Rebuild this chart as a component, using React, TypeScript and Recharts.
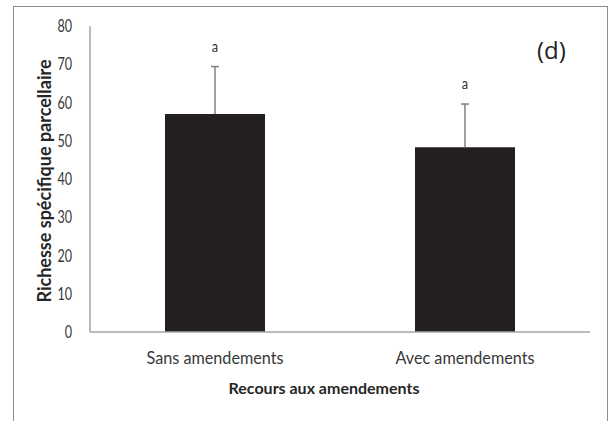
import { BarChart, Bar, XAxis, YAxis, LabelList, Label } from "recharts";

// values
const categories = ["Sans amendements", "Avec amendements"];
const means = [57, 48.3];
const errUp = [12.4, 11.3];
const letters = ["a", "a"];
const yTicks = [0, 10, 20, 30, 40, 50, 60, 70, 80];

const data = categories.map((c, i) => ({
  name: c,
  value: means[i],
  letter: letters[i],
}));

const AXIS = "#a6a6a6";
const FONT = "Lato, 'Open Sans', sans-serif";

// the original figure uses a narrow font, so squeeze the text a bit
function XTick(props: any) {
  const { x, y, payload } = props;
  return (
    <text transform={`translate(${x}, ${y}) scale(0.9, 1)`} textAnchor="middle"
      dy="0.71em" fontFamily={FONT} fontSize={18} fill="#383838">
      {payload.value}
    </text>
  );
}

function YTick(props: any) {
  const { x, y, payload } = props;
  return (
    <text transform={`translate(${x}, ${y}) scale(0.72, 1)`} textAnchor="end"
      dy="0.355em" fontFamily={FONT} fontSize={17.5} fill="#383838">
      {payload.value}
    </text>
  );
}

// error bar (upper half only) + significance letter, scaled from the bar itself
function ErrAndLetter(props: any) {
  const { x, y, width, height, index } = props;
  const d = data[index];
  if (!d) return null;
  const cx = x + width / 2;
  const top = y - (errUp[index] * height) / d.value;
  return (
    <g>
      <line x1={cx} x2={cx} y1={y} y2={top} stroke="#7f7f7f" strokeWidth={1.5} />
      <line x1={cx - 4} x2={cx + 4} y1={top} y2={top} stroke="#7f7f7f" strokeWidth={1.5} />
      <text transform={`translate(${cx}, ${top - 15}) scale(0.8, 1)`} textAnchor="middle"
        fontSize={16} fontFamily={FONT} fill="#333">
        {d.letter}
      </text>
    </g>
  );
}

export default function App() {
  return (
    <div style={{ position: "fixed", left: 0, top: 0, width: 609, height: 421, background: "#fff" }}>
      <div style={{
        position: "absolute", left: 13, top: 6, width: 593, height: 420,
        border: "1px solid #8c8c8c", borderBottom: "none",
      }} />
      <div style={{
        position: "absolute", left: 537, top: 34, fontSize: 24,
        fontFamily: "'Open Sans', sans-serif", color: "#222", lineHeight: "32px",
      }}>(d)</div>
      <div style={{ position: "absolute", left: 0, top: 0 }}>
        <BarChart width={609} height={421} data={data}
          margin={{ top: 26, right: 19, left: 0, bottom: 59 }} barCategoryGap="30%">
          <XAxis dataKey="name" height={30} tickLine={false} tickSize={6} tickMargin={13}
            axisLine={{ stroke: AXIS, strokeWidth: 1.5 }} tick={<XTick />}>
            <Label content={(p: any) => {
              const vb = p.viewBox;
              return (
                <text x={324} y={vb.y + 62} textAnchor="middle" fontFamily={FONT}
                  fontWeight="bold" fontSize={16} fill="#262626">
                  Recours aux amendements
                </text>
              );
            }} />
          </XAxis>
          <YAxis width={90} domain={[0, 80]} ticks={yTicks} tickLine={false}
            tickSize={6} tickMargin={12} axisLine={{ stroke: AXIS, strokeWidth: 1.5 }}
            tick={<YTick />}>
            <Label content={() => (
              <text x={0} y={0} transform="translate(51, 181) rotate(-90)" textAnchor="middle"
                fontFamily={FONT} fontWeight="bold" fontSize={18} fill="#262626">
                Richesse spécifique parcellaire
              </text>
            )} />
          </YAxis>
          <Bar dataKey="value" fill="#231f20" isAnimationActive={false}>
            <LabelList dataKey="letter" content={ErrAndLetter} />
          </Bar>
        </BarChart>
      </div>
    </div>
  );
}
